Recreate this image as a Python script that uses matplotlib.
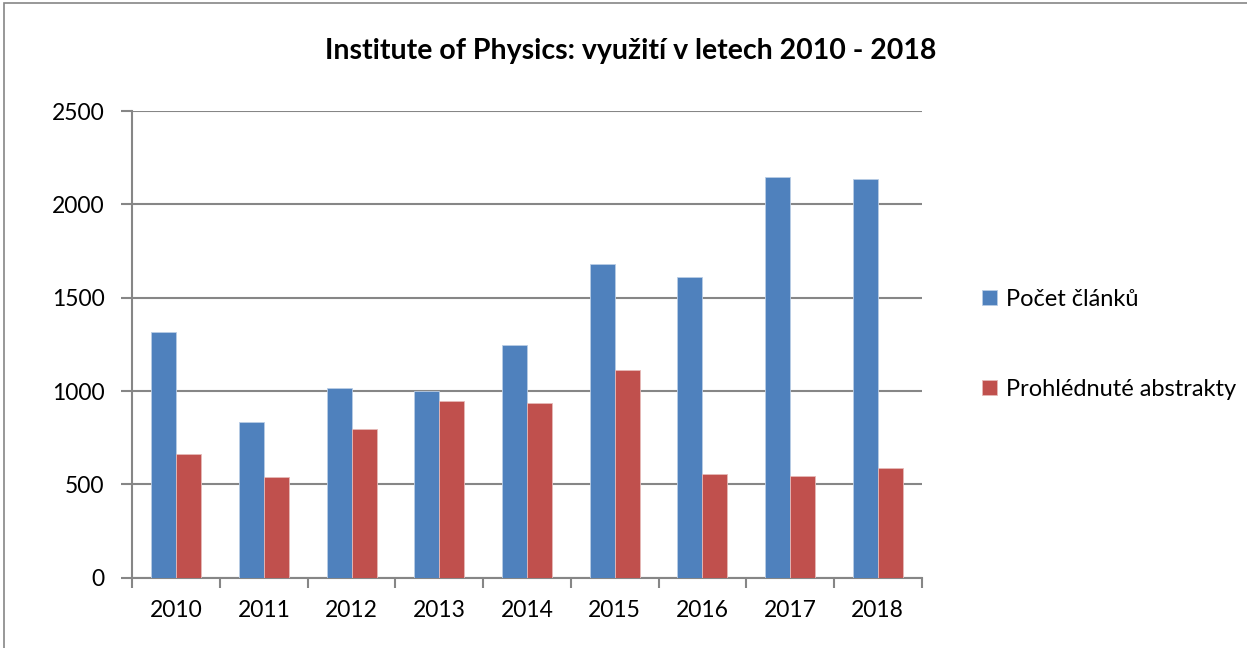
import matplotlib.pyplot as plt
import matplotlib.patches as mpatches
import numpy as np

# data
years = ['2010', '2011', '2012', '2013', '2014', '2015', '2016', '2017', '2018']
clanky = [1315, 832, 1018, 998, 1247, 1682, 1611, 2145, 2137]
abstrakty = [661, 538, 797, 947, 936, 1113, 557, 545, 586]
series_names = ['Počet článků', 'Prohlédnuté abstrakty']

plt.rcParams['font.family'] = ['Lato', 'DejaVu Sans']

fig = plt.figure(figsize=(12.47, 6.48), dpi=100)
ax = fig.add_axes([0.1061, 0.1085, 0.6330, 0.7202])

# outer chart frame
fig.patches.append(mpatches.Rectangle((0.003, -0.01), 1.2, 1.005, transform=fig.transFigure,
                                      fill=False, edgecolor='#868686', linewidth=1.2))

x = np.arange(len(years))
w = 1 / 3.5
ax.bar(x - w / 2, clanky, w, color='#4F81BD', edgecolor='#B9CDE5', linewidth=0.6,
       label=series_names[0], zorder=3)
ax.bar(x + w / 2, abstrakty, w, color='#C0504D', edgecolor='#E6B9B8', linewidth=0.6,
       label=series_names[1], zorder=3)

ax.set_xlim(-0.5, len(years) - 0.5)
ax.set_ylim(0, 2500)
ax.set_yticks(range(0, 2501, 500))
ax.yaxis.grid(True, color='#868686', linewidth=1.5)
ax.set_axisbelow(True)

ax.set_xticks(x)
ax.set_xticklabels(years)
ax.set_xticks(np.arange(-0.5, len(years)), minor=True)
ax.tick_params(axis='x', which='major', length=0, pad=16, labelsize=16.5)
ax.tick_params(axis='x', which='minor', length=7, width=1.5, color='#868686')
ax.tick_params(axis='y', length=8, width=1.5, color='#868686', pad=12, labelsize=16.5)

for s in ['top', 'right']:
    ax.spines[s].set_visible(False)
for s in ['left', 'bottom']:
    ax.spines[s].set_color('#868686')
    ax.spines[s].set_linewidth(1.5)

fig.text(0.506, 0.922, 'Institute of Physics: využití v letech 2010 - 2018',
         ha='center', va='center', fontsize=20.5, fontweight='bold')

ax.legend(loc='center left', bbox_to_anchor=(1.065, 0.5), frameon=False,
          fontsize=17, handlelength=0.6, handleheight=0.6, handletextpad=0.4,
          labelspacing=2.9, borderaxespad=0)

fig.savefig('out.png', dpi=100)
